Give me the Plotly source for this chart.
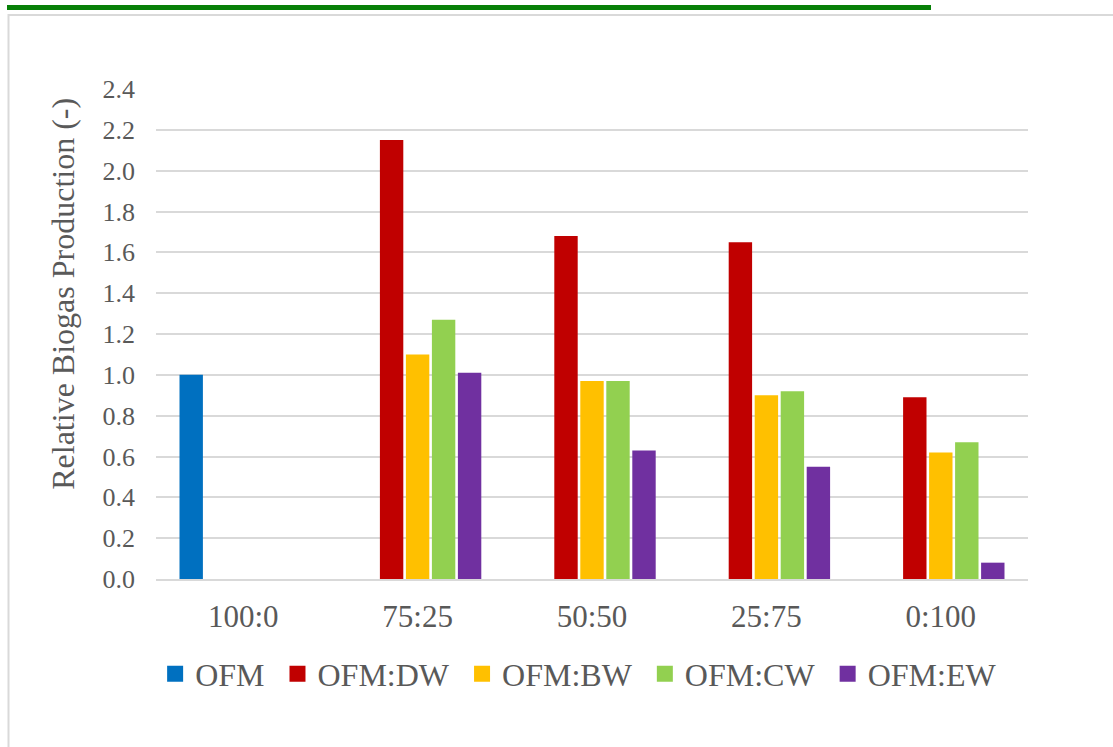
import plotly.graph_objects as go

# Substrate mixing ratios (OFM : co-substrate)
ratios = ["100:0", "75:25", "50:50", "25:75", "0:100"]

# Relative biogas production per series (None = not tested at that ratio)
series_names = ["OFM", "OFM:DW", "OFM:BW", "OFM:CW", "OFM:EW"]
ofm = [1.00, None, None, None, None]
ofm_dw = [None, 2.15, 1.68, 1.65, 0.89]
ofm_bw = [None, 1.10, 0.97, 0.90, 0.62]
ofm_cw = [None, 1.27, 0.97, 0.92, 0.67]
ofm_ew = [None, 1.01, 0.63, 0.55, 0.08]

y_ticks = [0.0, 0.2, 0.4, 0.6, 0.8, 1.0, 1.2, 1.4, 1.6, 1.8, 2.0, 2.2, 2.4]

colors = ["#0070C0", "#C00000", "#FFC000", "#92D050", "#7030A0"]
values = [ofm, ofm_dw, ofm_bw, ofm_cw, ofm_ew]

FONT = "Liberation Serif"
TEXT = "#595959"
GRID = "#D9D9D9"
PAD = "\u00a0"  # extra spacing after each legend label

fig = go.Figure()
for name, vals, col in zip(series_names, values, colors):
    fig.add_trace(go.Bar(
        x=ratios, y=vals, name=name,
        marker=dict(color=col, line=dict(width=0)),
        showlegend=False, legendgroup=name,
    ))
# Legend entries with larger square swatches
for name, col in zip(series_names, colors):
    fig.add_trace(go.Scatter(
        x=[None], y=[None], mode="markers", name=name + PAD, legendgroup=name,
        marker=dict(symbol="square", size=16, color=col),
        showlegend=True,
    ))

fig.update_layout(
    width=1113, height=747,
    margin=dict(l=156, r=85, t=89, b=168),
    paper_bgcolor="white", plot_bgcolor="white",
    barmode="group", bargap=0.2546, bargroupgap=0.1,
    font=dict(family=FONT, color=TEXT, size=26),
    showlegend=True,
    legend=dict(
        orientation="h", x=-0.001, xanchor="left", y=-0.194, yanchor="middle",
        font=dict(family=FONT, size=32, color=TEXT),
        itemsizing="trace", bgcolor="rgba(0,0,0,0)",
    ),
    xaxis=dict(
        type="category", showgrid=False, showline=True, linecolor=GRID, linewidth=2,
        ticks="", tickfont=dict(family=FONT, size=31, color=TEXT),
        ticklabelstandoff=9,
    ),
    yaxis=dict(
        range=[0, 2.4], tickvals=y_ticks, ticktext=[f"{v:.1f}" for v in y_ticks],
        showgrid=True, gridcolor=GRID, gridwidth=1.5, zeroline=False,
        showline=False, ticks="", tickfont=dict(family=FONT, size=26, color=TEXT),
        ticklabelstandoff=20,
    ),
    annotations=[dict(
        text="Relative Biogas Production (-)", textangle=-90,
        xref="paper", yref="paper", x=-0.1067, y=0.582,
        xanchor="center", yanchor="middle", showarrow=False,
        font=dict(family=FONT, size=32, color=TEXT),
    )],
    shapes=[
        # green rule across the top
        dict(type="rect", xref="paper", yref="paper",
             x0=(7 - 156) / 872, x1=(931 - 156) / 872,
             y0=(579 - 10) / 490, y1=(579 - 5) / 490,
             fillcolor="#078007", line=dict(width=0), layer="above"),
        # chart frame
        dict(type="rect", xref="paper", yref="paper",
             x0=(8.5 - 156) / 872, x1=(1120 - 156) / 872,
             y0=(579 - 760) / 490, y1=(579 - 15) / 490,
             fillcolor="rgba(0,0,0,0)", line=dict(color=GRID, width=2), layer="below"),
    ],
)

fig.write_html("out.html")
